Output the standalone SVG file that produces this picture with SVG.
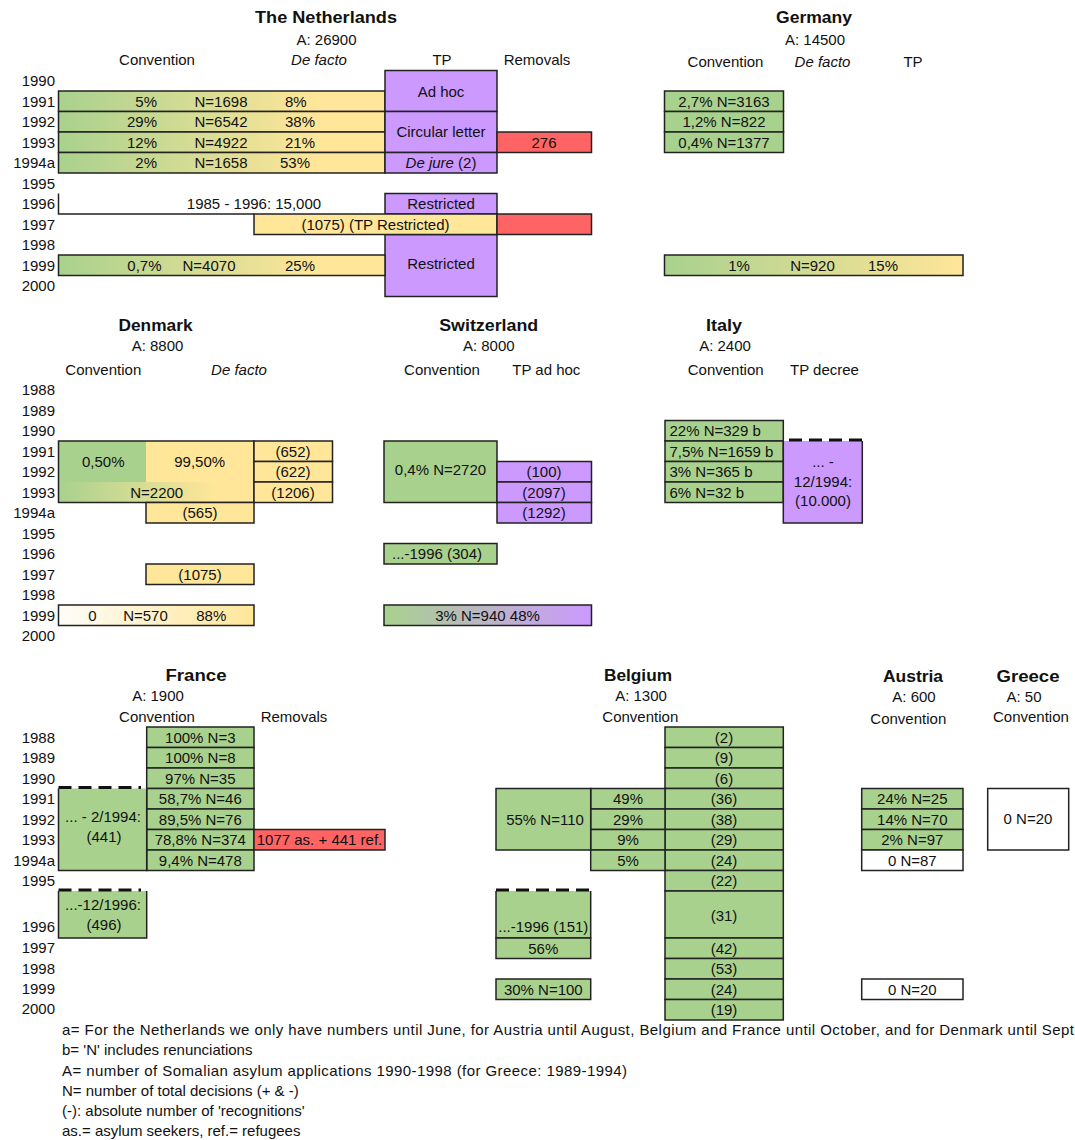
<svg xmlns="http://www.w3.org/2000/svg" width="1075" height="1140" viewBox="0 0 1075 1140">
<style>
text{font-family:"Liberation Sans",Arial,sans-serif;font-size:15px;fill:#111}
.c{text-anchor:middle}
.r{text-anchor:end}
.s{text-anchor:start}
.h{font-weight:bold;font-size:16px;text-anchor:middle}
.i{font-style:italic}
.bx{stroke:#222;stroke-width:1.5}
.ln{stroke:#222;stroke-width:1.5;fill:none}
.g{fill:#a9d18e}
.y{fill:#ffe699}
.p{fill:#cc99ff}
.rd{fill:#ff6464}
.w{fill:#fff}
.dash{stroke:#111;stroke-width:3;stroke-dasharray:13 7;fill:none}
</style>
<defs>
<linearGradient id="gy" x1="0" y1="0" x2="1" y2="0"><stop offset="0" stop-color="#a9d18e"/><stop offset="0.8" stop-color="#ffe699"/></linearGradient>
<linearGradient id="gy2" x1="0" y1="0" x2="1" y2="0"><stop offset="0" stop-color="#a9d18e"/><stop offset="1" stop-color="#ffe699"/></linearGradient>
<linearGradient id="wy" x1="0" y1="0" x2="1" y2="0"><stop offset="0" stop-color="#fffdf8"/><stop offset="1" stop-color="#ffe699"/></linearGradient>
<linearGradient id="gp" x1="0" y1="0" x2="1" y2="0"><stop offset="0" stop-color="#a9d18e"/><stop offset="1" stop-color="#cc99ff"/></linearGradient>
</defs>
<rect width="1075" height="1140" fill="#fff"/>

<!-- ================= The Netherlands ================= -->
<g id="netherlands">
<text class="h" x="326" y="23" textLength="142" lengthAdjust="spacingAndGlyphs">The Netherlands</text>
<text class="c" x="326.5" y="45">A: 26900</text>
<text class="c" x="157" y="65">Convention</text>
<text class="c i" x="319" y="65">De facto</text>
<text class="c" x="442" y="65">TP</text>
<text class="c" x="537" y="65">Removals</text>
<g id="nl-years" class="r">
<text class="r" x="55" y="86">1990</text>
<text class="r" x="55" y="106.5">1991</text>
<text class="r" x="55" y="127">1992</text>
<text class="r" x="55" y="147.5">1993</text>
<text class="r" x="55" y="168">1994a</text>
<text class="r" x="55" y="188.5">1995</text>
<text class="r" x="55" y="209">1996</text>
<text class="r" x="55" y="229.5">1997</text>
<text class="r" x="55" y="250">1998</text>
<text class="r" x="55" y="270.5">1999</text>
<text class="r" x="55" y="291">2000</text>
</g>
<g id="nl-1991"><rect class="bx" x="58.5" y="91" width="326.5" height="20.5" fill="url(#gy)"/><text class="r" x="157" y="106.5">5%</text><text class="c" x="221" y="106.5">N=1698</text><text class="s" x="285" y="106.5">8%</text></g>
<g id="nl-1992"><rect class="bx" x="58.5" y="111.5" width="326.5" height="20.5" fill="url(#gy)"/><text class="r" x="157" y="127">29%</text><text class="c" x="221" y="127">N=6542</text><text class="s" x="285" y="127">38%</text></g>
<g id="nl-1993"><rect class="bx" x="58.5" y="132" width="326.5" height="20.5" fill="url(#gy)"/><text class="r" x="157" y="147.5">12%</text><text class="c" x="221" y="147.5">N=4922</text><text class="s" x="285" y="147.5">21%</text></g>
<g id="nl-1994a"><rect class="bx" x="58.5" y="152.5" width="326.5" height="20.5" fill="url(#gy)"/><text class="r" x="157" y="168">2%</text><text class="c" x="221" y="168">N=1658</text><text class="s" x="280" y="168">53%</text></g>
<g id="nl-tp-adhoc"><rect class="bx p" x="385" y="70.5" width="112" height="41"/><text class="c" x="441" y="96.5">Ad hoc</text></g>
<g id="nl-tp-circular"><rect class="bx p" x="385" y="111.5" width="112" height="41"/><text class="c" x="441" y="137">Circular letter</text></g>
<g id="nl-tp-dejure"><rect class="bx p" x="385" y="152.5" width="112" height="20.5"/><text class="c" x="441" y="168"><tspan class="i">De jure</tspan> (2)</text></g>
<g id="nl-rem-1993"><rect class="bx rd" x="497" y="132" width="94.5" height="20.5"/><text class="c" x="544" y="147.5">276</text></g>
<g id="nl-1996"><path class="ln" d="M58.5,193.5 V214 H254"/><text class="c" x="254" y="209">1985 - 1996: 15,000</text></g>
<g id="nl-tp-1996"><rect class="bx p" x="385" y="193.5" width="112" height="20.5"/><text class="c" x="441" y="209">Restricted</text></g>
<g id="nl-tp-1998"><rect class="bx p" x="385" y="234.5" width="112" height="62"/><text class="c" x="441" y="268.5">Restricted</text></g>
<g id="nl-1997"><rect class="bx y" x="254" y="214" width="243" height="20.5"/><text class="c" x="375.5" y="229.5">(1075) (TP Restricted)</text></g>
<g id="nl-rem-1997"><rect class="bx rd" x="497" y="214" width="94.5" height="20.5"/></g>
<g id="nl-1999"><rect class="bx" x="58.5" y="255" width="326.5" height="20.5" fill="url(#gy)"/><text class="r" x="161.5" y="270.5">0,7%</text><text class="c" x="209" y="270.5">N=4070</text><text class="s" x="285" y="270.5">25%</text></g>
</g>

<!-- ================= Germany ================= -->
<g id="germany">
<text class="h" x="814" y="23" textLength="76" lengthAdjust="spacingAndGlyphs">Germany</text>
<text class="c" x="815" y="45">A: 14500</text>
<text class="c" x="725.5" y="66.5">Convention</text>
<text class="c i" x="822.5" y="66.5">De facto</text>
<text class="c" x="913" y="66.5">TP</text>
<g id="de-1991"><rect class="bx g" x="664.5" y="91" width="119" height="20.5"/><text class="c" x="724" y="106.5">2,7% N=3163</text></g>
<g id="de-1992"><rect class="bx g" x="664.5" y="111.5" width="119" height="20.5"/><text class="c" x="724" y="127">1,2% N=822</text></g>
<g id="de-1993"><rect class="bx g" x="664.5" y="132" width="119" height="20.5"/><text class="c" x="724" y="147.5">0,4% N=1377</text></g>
<g id="de-1999"><rect class="bx" x="664.5" y="255" width="298.5" height="20.5" fill="url(#gy2)"/><text class="c" x="739" y="270.5">1%</text><text class="c" x="812.5" y="270.5">N=920</text><text class="c" x="883" y="270.5">15%</text></g>
</g>

<!-- ================= Denmark ================= -->
<g id="denmark">
<text class="h" x="155.5" y="331" textLength="74" lengthAdjust="spacingAndGlyphs">Denmark</text>
<text class="c" x="157.5" y="351">A: 8800</text>
<text class="c" x="103.3" y="374.5">Convention</text>
<text class="c i" x="239" y="374.5">De facto</text>
<g id="dk-years">
<text class="r" x="55" y="395">1988</text>
<text class="r" x="55" y="415.5">1989</text>
<text class="r" x="55" y="436">1990</text>
<text class="r" x="55" y="456.5">1991</text>
<text class="r" x="55" y="477">1992</text>
<text class="r" x="55" y="497.5">1993</text>
<text class="r" x="55" y="518">1994a</text>
<text class="r" x="55" y="538.5">1995</text>
<text class="r" x="55" y="559">1996</text>
<text class="r" x="55" y="579.5">1997</text>
<text class="r" x="55" y="600">1998</text>
<text class="r" x="55" y="620.5">1999</text>
<text class="r" x="55" y="641">2000</text>
</g>
<g id="dk-1991-1993">
<rect class="g" x="58.5" y="441" width="87.5" height="41"/>
<rect class="y" x="146" y="441" width="108" height="41"/>
<rect x="58.5" y="482" width="195.5" height="20.5" fill="url(#gy)"/>
<rect class="bx" x="58.5" y="441" width="195.5" height="61.5" fill="none"/>
<text class="c" x="103.3" y="467">0,50%</text>
<text class="c" x="199.7" y="467">99,50%</text>
<text class="c" x="156.7" y="497.5">N=2200</text>
</g>
<g id="dk-1991-r"><rect class="bx y" x="254" y="441" width="78.5" height="20.5"/><text class="c" x="293" y="456.5">(652)</text></g>
<g id="dk-1992-r"><rect class="bx y" x="254" y="461.5" width="78.5" height="20.5"/><text class="c" x="293" y="477">(622)</text></g>
<g id="dk-1993-r"><rect class="bx y" x="254" y="482" width="78.5" height="20.5"/><text class="c" x="293" y="497.5">(1206)</text></g>
<g id="dk-1994a"><rect class="bx y" x="146" y="502.5" width="108" height="20.5"/><text class="c" x="200" y="518">(565)</text></g>
<g id="dk-1997"><rect class="bx y" x="146" y="564" width="108" height="20.5"/><text class="c" x="200" y="579.5">(1075)</text></g>
<g id="dk-1999"><rect class="bx" x="58.5" y="605" width="195.5" height="20.5" fill="url(#wy)"/><text class="c" x="92.5" y="620.5">0</text><text class="c" x="145.5" y="620.5">N=570</text><text class="c" x="211.3" y="620.5">88%</text></g>
</g>

<!-- ================= Switzerland ================= -->
<g id="switzerland">
<text class="h" x="488.7" y="331" textLength="99" lengthAdjust="spacingAndGlyphs">Switzerland</text>
<text class="c" x="488.8" y="351">A: 8000</text>
<text class="c" x="442" y="374.5">Convention</text>
<text class="c" x="546.3" y="374.5">TP ad hoc</text>
<g id="ch-conv"><rect class="bx g" x="384" y="441" width="113" height="61.5"/><text class="c" x="440.5" y="474.5">0,4% N=2720</text></g>
<g id="ch-tp-1992"><rect class="bx p" x="497" y="461.5" width="94.5" height="20.5"/><text class="c" x="544" y="477">(100)</text></g>
<g id="ch-tp-1993"><rect class="bx p" x="497" y="482" width="94.5" height="20.5"/><text class="c" x="544" y="497.5">(2097)</text></g>
<g id="ch-tp-1994a"><rect class="bx p" x="497" y="502.5" width="94.5" height="20.5"/><text class="c" x="544" y="518">(1292)</text></g>
<g id="ch-1996"><rect class="bx g" x="384" y="543.5" width="113" height="20.5"/><text class="c" x="437" y="559">...-1996 (304)</text></g>
<g id="ch-1999"><rect class="bx" x="384" y="605" width="207.5" height="20.5" fill="url(#gp)"/><text class="c" x="487.5" y="620.5">3% N=940 48%</text></g>
</g>

<!-- ================= Italy ================= -->
<g id="italy">
<text class="h" x="724" y="331" textLength="36" lengthAdjust="spacingAndGlyphs">Italy</text>
<text class="c" x="725" y="351">A: 2400</text>
<text class="c" x="725.7" y="374.5">Convention</text>
<text class="c" x="824.5" y="374.5">TP decree</text>
<g id="it-1990"><rect class="bx g" x="665" y="420.5" width="118.3" height="20.5"/><text class="s" x="669.5" y="436">22% N=329 b</text></g>
<g id="it-1991"><rect class="bx g" x="665" y="441" width="118.3" height="20.5"/><text class="s" x="669.5" y="456.5">7,5% N=1659 b</text></g>
<g id="it-1992"><rect class="bx g" x="665" y="461.5" width="118.3" height="20.5"/><text class="s" x="669.5" y="477">3% N=365 b</text></g>
<g id="it-1993"><rect class="bx g" x="665" y="482" width="118.3" height="20.5"/><text class="s" x="669.5" y="497.5">6% N=32 b</text></g>
<g id="it-tp">
<rect class="p" x="783.3" y="441" width="79" height="82"/>
<path class="ln" d="M783.3,441 V523 H862.3 V441"/>
<path class="dash" d="M789,440 H862"/>
<text class="c" x="823" y="467">... -</text>
<text class="c" x="823" y="486.5">12/1994:</text>
<text class="c" x="823" y="506">(10.000)</text>
</g>
</g>

<!-- ================= France ================= -->
<g id="france">
<text class="h" x="196" y="680.5" textLength="61" lengthAdjust="spacingAndGlyphs">France</text>
<text class="c" x="158" y="700.5">A: 1900</text>
<text class="c" x="157" y="722">Convention</text>
<text class="c" x="294" y="722">Removals</text>
<g id="fr-years">
<text class="r" x="55" y="742.5">1988</text>
<text class="r" x="55" y="763">1989</text>
<text class="r" x="55" y="783.5">1990</text>
<text class="r" x="55" y="804">1991</text>
<text class="r" x="55" y="824.5">1992</text>
<text class="r" x="55" y="845">1993</text>
<text class="r" x="55" y="865.5">1994a</text>
<text class="r" x="55" y="886">1995</text>
<text class="r" x="55" y="932">1996</text>
<text class="r" x="55" y="953">1997</text>
<text class="r" x="55" y="973.5">1998</text>
<text class="r" x="55" y="994">1999</text>
<text class="r" x="55" y="1014">2000</text>
</g>
<g id="fr-1988"><rect class="bx g" x="146.7" y="727" width="107.3" height="20.5"/><text class="c" x="200.3" y="742.5">100% N=3</text></g>
<g id="fr-1989"><rect class="bx g" x="146.7" y="747.5" width="107.3" height="20.5"/><text class="c" x="200.3" y="763">100% N=8</text></g>
<g id="fr-1990"><rect class="bx g" x="146.7" y="768" width="107.3" height="20.5"/><text class="c" x="200.3" y="783.5">97% N=35</text></g>
<g id="fr-1991"><rect class="bx g" x="146.7" y="788.5" width="107.3" height="20.5"/><text class="c" x="200.3" y="804">58,7% N=46</text></g>
<g id="fr-1992"><rect class="bx g" x="146.7" y="809" width="107.3" height="20.5"/><text class="c" x="200.3" y="824.5">89,5% N=76</text></g>
<g id="fr-1993"><rect class="bx g" x="146.7" y="829.5" width="107.3" height="20.5"/><text class="c" x="200.3" y="845">78,8% N=374</text></g>
<g id="fr-1994a"><rect class="bx g" x="146.7" y="850" width="107.3" height="20.5"/><text class="c" x="200.3" y="865.5">9,4% N=478</text></g>
<g id="fr-tp-1991">
<rect class="g" x="58.5" y="788.5" width="88.2" height="82"/>
<path class="ln" d="M58.5,788.5 V870.5 H146.7 V788.5"/>
<path class="dash" d="M58.5,787.5 H141"/>
<text class="c" x="103" y="822">... - 2/1994:</text>
<text class="c" x="104" y="842">(441)</text>
</g>
<g id="fr-rem-1993"><rect class="bx rd" x="254" y="829.5" width="131" height="20.5"/><text class="c" x="319.5" y="845">1077 as. + 441 ref.</text></g>
<g id="fr-tp-1996">
<rect class="g" x="58.5" y="891" width="88.2" height="47"/>
<path class="ln" d="M58.5,891 V938 H146.7 V891"/>
<path class="dash" d="M58.5,890 H141"/>
<text class="c" x="103" y="909.5">...-12/1996:</text>
<text class="c" x="104" y="929.5">(496)</text>
</g>
</g>

<!-- ================= Belgium ================= -->
<g id="belgium">
<text class="h" x="638" y="680.5" textLength="68" lengthAdjust="spacingAndGlyphs">Belgium</text>
<text class="c" x="641" y="700.5">A: 1300</text>
<text class="c" x="640.3" y="722">Convention</text>
<g id="be-1988"><rect class="bx g" x="665" y="727" width="118.3" height="20.5"/><text class="c" x="724" y="742.5">(2)</text></g>
<g id="be-1989"><rect class="bx g" x="665" y="747.5" width="118.3" height="20.5"/><text class="c" x="724" y="763">(9)</text></g>
<g id="be-1990"><rect class="bx g" x="665" y="768" width="118.3" height="20.5"/><text class="c" x="724" y="783.5">(6)</text></g>
<g id="be-1991"><rect class="bx g" x="665" y="788.5" width="118.3" height="20.5"/><text class="c" x="724" y="804">(36)</text></g>
<g id="be-1992"><rect class="bx g" x="665" y="809" width="118.3" height="20.5"/><text class="c" x="724" y="824.5">(38)</text></g>
<g id="be-1993"><rect class="bx g" x="665" y="829.5" width="118.3" height="20.5"/><text class="c" x="724" y="845">(29)</text></g>
<g id="be-1994a"><rect class="bx g" x="665" y="850" width="118.3" height="20.5"/><text class="c" x="724" y="865.5">(24)</text></g>
<g id="be-1995"><rect class="bx g" x="665" y="870.5" width="118.3" height="20.5"/><text class="c" x="724" y="886">(22)</text></g>
<g id="be-1996"><rect class="bx g" x="665" y="891" width="118.3" height="47"/><text class="c" x="724" y="921">(31)</text></g>
<g id="be-1997"><rect class="bx g" x="665" y="938" width="118.3" height="20.5"/><text class="c" x="724" y="953.5">(42)</text></g>
<g id="be-1998"><rect class="bx g" x="665" y="958.5" width="118.3" height="20.5"/><text class="c" x="724" y="974">(53)</text></g>
<g id="be-1999"><rect class="bx g" x="665" y="979" width="118.3" height="20.5"/><text class="c" x="724" y="994.5">(24)</text></g>
<g id="be-2000"><rect class="bx g" x="665" y="999.5" width="118.3" height="20.5"/><text class="c" x="724" y="1015">(19)</text></g>
<g id="be-mid-1991"><rect class="bx g" x="590.7" y="788.5" width="74.3" height="20.5"/><text class="c" x="628" y="804">49%</text></g>
<g id="be-mid-1992"><rect class="bx g" x="590.7" y="809" width="74.3" height="20.5"/><text class="c" x="628" y="824.5">29%</text></g>
<g id="be-mid-1993"><rect class="bx g" x="590.7" y="829.5" width="74.3" height="20.5"/><text class="c" x="628" y="845">9%</text></g>
<g id="be-mid-1994a"><rect class="bx g" x="590.7" y="850" width="74.3" height="20.5"/><text class="c" x="628" y="865.5">5%</text></g>
<g id="be-left-1991"><rect class="bx g" x="496" y="788.5" width="94.7" height="61.5"/><text class="c" x="545" y="824.5">55% N=110</text></g>
<g id="be-left-1996">
<rect class="g" x="496" y="891" width="94.7" height="47"/>
<path class="ln" d="M496,891 V938 H590.7 V891"/>
<path class="dash" d="M496,890 H591"/>
<text class="c" x="543.3" y="932">...-1996 (151)</text>
</g>
<g id="be-left-1997"><rect class="bx g" x="496" y="938" width="94.7" height="20.5"/><text class="c" x="543.3" y="953.5">56%</text></g>
<g id="be-left-1999"><rect class="bx g" x="496" y="979" width="94.7" height="20.5"/><text class="c" x="543.3" y="994.5">30% N=100</text></g>
</g>

<!-- ================= Austria ================= -->
<g id="austria">
<text class="h" x="913" y="682" textLength="60" lengthAdjust="spacingAndGlyphs">Austria</text>
<text class="c" x="914" y="702">A: 600</text>
<text class="c" x="908.3" y="724">Convention</text>
<g id="at-1991"><rect class="bx g" x="861.7" y="788.5" width="101.3" height="20.5"/><text class="c" x="912.3" y="804">24% N=25</text></g>
<g id="at-1992"><rect class="bx g" x="861.7" y="809" width="101.3" height="20.5"/><text class="c" x="912.3" y="824.5">14% N=70</text></g>
<g id="at-1993"><rect class="bx g" x="861.7" y="829.5" width="101.3" height="20.5"/><text class="c" x="912.3" y="845">2% N=97</text></g>
<g id="at-1994a"><rect class="bx w" x="861.7" y="850" width="101.3" height="20.5"/><text class="c" x="912.3" y="865.5">0 N=87</text></g>
<g id="at-1999"><rect class="bx w" x="861.7" y="979" width="101.3" height="20.5"/><text class="c" x="912.3" y="994.5">0 N=20</text></g>
</g>

<!-- ================= Greece ================= -->
<g id="greece">
<text class="h" x="1028" y="682" textLength="63" lengthAdjust="spacingAndGlyphs">Greece</text>
<text class="c" x="1024" y="702">A: 50</text>
<text class="s" x="993" y="722">Convention</text>
<g id="gr-1991"><rect class="bx w" x="987.7" y="788.5" width="81" height="61.5"/><text class="c" x="1028" y="824">0 N=20</text></g>
</g>

<!-- ================= Footnotes ================= -->
<g id="footnotes">
<text x="62" y="1035" textLength="1012" lengthAdjust="spacing">a= For the Netherlands we only have numbers until June, for Austria until August, Belgium and France until October, and for Denmark until Sept</text>
<text x="62" y="1055">b= 'N' includes renunciations</text>
<text x="62" y="1076" textLength="565" lengthAdjust="spacing">A= number of Somalian asylum applications 1990-1998 (for Greece: 1989-1994)</text>
<text x="62" y="1096">N= number of total decisions (+ &amp; -)</text>
<text x="62" y="1116">(-): absolute number of 'recognitions'</text>
<text x="62" y="1136">as.= asylum seekers, ref.= refugees</text>
</g>
</svg>
